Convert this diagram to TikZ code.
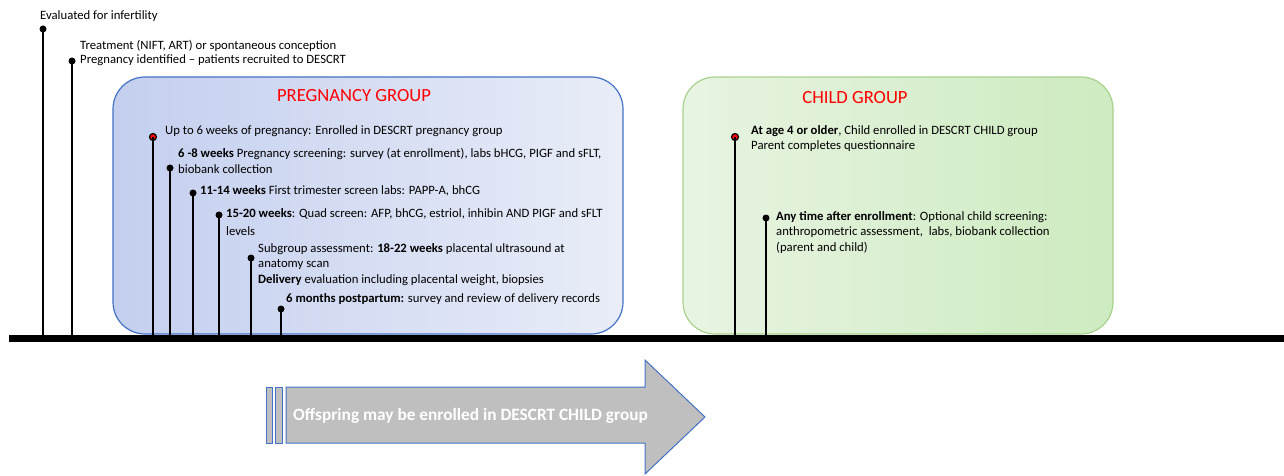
\documentclass[tikz,border=0pt]{standalone}
\usepackage{fontspec}
\setmainfont{Carlito}
\definecolor{pgblue}{HTML}{4472C4}
\definecolor{pgleft}{HTML}{C4CFEF}
\definecolor{pgright}{HTML}{E9EDF8}
\definecolor{chborder}{HTML}{A9D18E}
\definecolor{chleft}{HTML}{E8F4E2}
\definecolor{chright}{HTML}{CDEBC0}
\definecolor{titlered}{HTML}{FF0000}
\definecolor{arrowgray}{HTML}{BFBFBF}
\begin{document}
\begin{tikzpicture}[x=1pt,y=-1pt,
  lbl/.style={anchor=north west,inner sep=0pt,align=left,font=\fontsize{12.7}{15.5}\selectfont},
  stem/.style={line width=2.6pt},
  dotb/.style={circle,fill=black,inner sep=0pt,minimum size=7pt},
  dotr/.style={circle,fill=red,draw=black,line width=1.2pt,inner sep=0pt,minimum size=7pt},
  grptitle/.style={text=titlered,font=\fontsize{18.6}{20}\selectfont,inner sep=0pt}]
\useasboundingbox (0,0) rectangle (1284,476);
% group boxes
\path[draw=pgblue,line width=1.2pt,rounded corners=32,left color=pgleft,right color=pgright]
  (113,77) rectangle (623,334);
\path[draw=chborder,line width=1.2pt,rounded corners=32,left color=chleft,right color=chright]
  (683,77) rectangle (1113,334);
\node[grptitle] (pgt) at (354,96) {PREGNANCY GROUP};
\node[grptitle] (cht) at (855,98) {CHILD GROUP};
% timeline
\coordinate (tl0) at (9,338);
\coordinate (tl1) at (1284,338);
\draw[line width=7pt] (tl0) -- (tl1);
% events: base coordinates on timeline
\foreach \n/\x in {a/43,b/72,c/153,d/170,e/193,f/219,g/251,h/281,j/766}{
  \coordinate (\n0) at (\x,336);
}
\coordinate (i0) at (735,342);
\node[dotb] (a) at (43,29) {};
\node[dotb] (b) at (72,61) {};
\node[dotr] (c) at (153,137) {};
\node[dotb] (d) at (170,168) {};
\node[dotb] (e) at (193,193) {};
\node[dotb] (f) at (219,215) {};
\node[dotb] (g) at (251,258) {};
\node[dotb] (h) at (281,309) {};
\node[dotr] (i) at (735,137) {};
\node[dotb] (j) at (766,218) {};
\foreach \n in {a,b,c,d,e,f,g,h,i,j}{
  \draw[stem] (\n.center) -- (\n0);
}
% labels
\node[lbl] (la) at (40,10) {Evaluated for infertility};
\node[lbl,font=\fontsize{12.7}{14.5}\selectfont] (lb) at (80,40) {Treatment (NIFT, ART) or spontaneous conception\\Pregnancy identified -- patients recruited to DESCRT};
\node[lbl] (lc) at (165,125) {Up to 6 weeks of pregnancy: Enrolled in DESCRT pregnancy group};
\node[lbl,font=\fontsize{12.7}{16}\selectfont] (ld) at (178,148) {\textbf{6 -8 weeks} Pregnancy screening: survey (at enrollment), labs bHCG, PIGF and sFLT,\\biobank collection};
\node[lbl] (le) at (200,185) {\textbf{11-14 weeks} First trimester screen labs: PAPP-A, bhCG};
\node[lbl,font=\fontsize{12.7}{18}\selectfont] (lf) at (226,208) {\textbf{15-20 weeks}: Quad screen: AFP, bhCG, estriol, inhibin AND PIGF and sFLT\\levels};
\node[lbl] (lg) at (258,243) {Subgroup assessment: \textbf{18-22 weeks} placental ultrasound at\\anatomy scan\\\textbf{Delivery} evaluation including placental weight, biopsies};
\node[lbl] (lh) at (286,293) {\textbf{6 months postpartum:} survey and review of delivery records};
\node[lbl,font=\fontsize{12.7}{15}\selectfont] (li) at (751,125) {\textbf{At age 4 or older}, Child enrolled in DESCRT CHILD group\\Parent completes questionnaire};
\node[lbl] (lj) at (776,211) {\textbf{Any time after enrollment}: Optional child screening:\\anthropometric assessment,\ \ labs, biobank collection\\(parent and child)};
% arrow
\path[draw=pgblue,line width=1pt,fill=arrowgray]
  (286,387) -- (645,387) -- (645,360) -- (705,417) -- (645,474) -- (645,443) -- (286,443) -- cycle;
\path[draw=pgblue,line width=1pt,fill=arrowgray] (266,387) rectangle (272,443);
\path[draw=pgblue,line width=1pt,fill=arrowgray] (275,387) rectangle (282,443);
\node[anchor=west,inner sep=0pt,text=white,font=\fontsize{17.3}{19}\selectfont\bfseries] (arr) at (293,416) {Offspring may be enrolled in DESCRT CHILD group};
\end{tikzpicture}
\end{document}
